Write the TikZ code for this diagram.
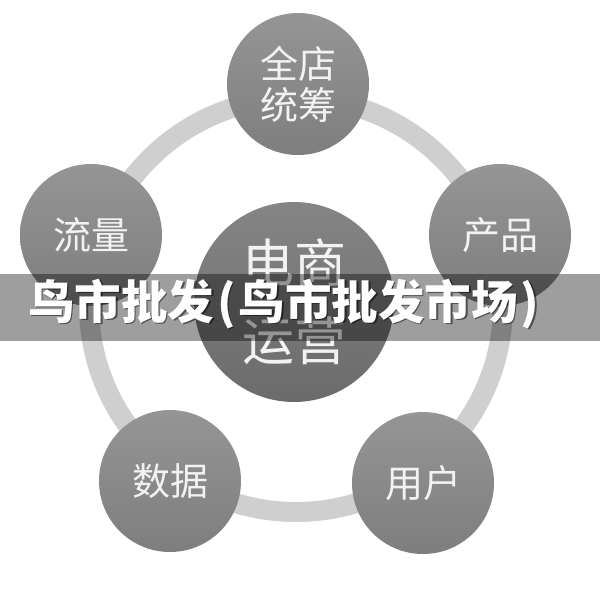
\documentclass[tikz,border=0pt]{standalone}
\usepackage{fontspec}
\setmainfont{Noto Sans CJK SC}
\definecolor{ringgray}{HTML}{CFCFCF}
\definecolor{balltop}{HTML}{959595}
\definecolor{ballbot}{HTML}{7E7E7E}
\definecolor{labelcol}{HTML}{F2F2F2}
\newcommand{\bannerstring}{鸟市批发\hspace{3pt}(\hspace{3pt}鸟市批发市场\hspace{3pt})}
\tikzset{
  ball/.style={circle, inner sep=0pt, top color=balltop, bottom color=ballbot, draw=none, text=labelcol, align=center},
  small/.style={ball, minimum size=142pt, font=\fontsize{38}{41}\selectfont},
  big/.style={ball, minimum size=200pt, top color=ballbot!95!white, bottom color=ballbot!85!black, font=\fontsize{52}{78}\selectfont},
  banner/.style={fill=black, fill opacity=0.38, draw=none},
  bannertext/.style={anchor=west, text=white, font=\fontsize{46.5}{50}\selectfont\bfseries, inner sep=0pt}
}
\begin{document}
\begin{tikzpicture}[x=1pt,y=-1pt]
\useasboundingbox[fill=white] (0,0) rectangle (600,595);
\coordinate (ringc) at (296,305);
\draw[ringgray, line width=20pt] (ringc) circle[radius=207pt];
\node[big] (core) at (294,302) {电商\\运营};
\node[small] (top) at (298,84) {全店\\统筹};
\node[small] (flow) at (91,235) {流量};
\node[small] (prod) at (500,235) {产品};
\node[small] (data) at (170,481) {数据};
\node[small] (user) at (423,483) {用户};
\path[banner] (0,274) rectangle (600,341);
\node[bannertext, text=black, text opacity=0.5] (shadow) at (29.5,305.5) {\bannerstring};
\node[bannertext] (title) at (28,304) {\bannerstring};
\end{tikzpicture}
\end{document}
